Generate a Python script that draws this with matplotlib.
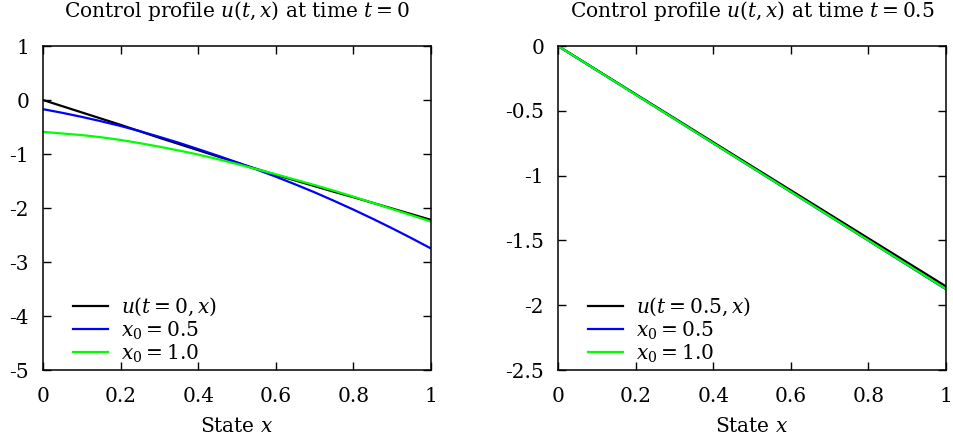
import matplotlib
matplotlib.use("Agg")
import matplotlib.pyplot as plt

plt.rcParams['font.family'] = ['DejaVu Serif']
plt.rcParams['mathtext.fontset'] = 'custom'
plt.rcParams['mathtext.rm'] = 'DejaVu Serif'
plt.rcParams['mathtext.it'] = 'DejaVu Serif:italic'
plt.rcParams['font.size'] = 14.5

# ---- data ----
x = [0.0, 0.05, 0.1, 0.15, 0.2, 0.25, 0.3, 0.35, 0.4, 0.45, 0.5,
     0.55, 0.6, 0.65, 0.7, 0.75, 0.8, 0.85, 0.9, 0.95, 1.0]

# t = 0
u0_exact = [0.0, -0.115, -0.23, -0.345, -0.46, -0.58, -0.70, -0.815, -0.93, -1.045, -1.16,
            -1.275, -1.385, -1.49, -1.595, -1.70, -1.80, -1.905, -2.01, -2.115, -2.22]
u0_x05 = [-0.17, -0.238, -0.313, -0.394, -0.481, -0.578, -0.683, -0.792, -0.91, -1.03, -1.155,
          -1.285, -1.42, -1.562, -1.71, -1.867, -2.03, -2.2, -2.377, -2.56, -2.75]
u0_x10 = [-0.59, -0.62, -0.65, -0.69, -0.74, -0.80, -0.865, -0.935, -1.01, -1.095, -1.185,
          -1.28, -1.375, -1.475, -1.575, -1.68, -1.79, -1.905, -2.02, -2.135, -2.25]

# t = 0.5
x_half = [0.0, 0.5, 1.0]
u5_exact = [0.0, -0.928, -1.855]
u5_x05 = [0.0, -0.938, -1.877]
u5_x10 = [0.0, -0.937, -1.875]

xticks = [0, 0.2, 0.4, 0.6, 0.8, 1]
xticklabels = ['0', '0.2', '0.4', '0.6', '0.8', '1']
yticks_left = [1, 0, -1, -2, -3, -4, -5]
yticklabels_left = ['1', '0', '-1', '-2', '-3', '-4', '-5']
yticks_right = [0, -0.5, -1, -1.5, -2, -2.5]
yticklabels_right = ['0', '-0.5', '-1', '-1.5', '-2', '-2.5']

W, H = 954, 445
fig = plt.figure(figsize=(W / 100, H / 100), dpi=100)
axL = fig.add_axes([43 / W, 75 / H, 388 / W, 324 / H])
axR = fig.add_axes([558 / W, 75 / H, 388 / W, 324 / H])

def style(ax, yt, ytl, ylim, title):
    ax.set_xlim(0, 1)
    ax.set_ylim(*ylim)
    ax.set_xticks(xticks)
    ax.set_xticklabels(xticklabels)
    ax.set_yticks(yt)
    ax.set_yticklabels(ytl)
    ax.tick_params(direction='in', length=6, width=1, top=True, right=True,
                   labelsize=14.5, pad=12)
    ax.tick_params(axis='y', pad=10)
    for s in ax.spines.values():
        s.set_linewidth(1.1)
    ax.set_title(title, fontsize=14.5, pad=21)
    ax.set_xlabel(r'State $x$', fontsize=14.5, labelpad=8)
    ax.legend(loc='lower left', bbox_to_anchor=(0.03, -0.04), frameon=False,
              handlelength=1.75, handletextpad=0.65, labelspacing=0.05,
              fontsize=14.5)

axL.plot(x, u0_exact, color='black', lw=1.6, label=r'$u(t=0,x)$')
axL.plot(x, u0_x05, color='#0000ff', lw=1.6, label=r'$x_0=0.5$')
axL.plot(x, u0_x10, color='#00ff00', lw=1.6, label=r'$x_0=1.0$')
style(axL, yticks_left, yticklabels_left, (-5, 1),
      r'Control profile $u(t,x)$ at time $t=0$')

axR.plot(x_half, u5_exact, color='black', lw=1.6, label=r'$u(t=0.5,x)$')
axR.plot(x_half, u5_x05, color='#0000ff', lw=1.6, label=r'$x_0=0.5$')
axR.plot(x_half, u5_x10, color='#00ff00', lw=1.6, label=r'$x_0=1.0$')
style(axR, yticks_right, yticklabels_right, (-2.5, 0),
      r'Control profile $u(t,x)$ at time $t=0.5$')

fig.savefig('out.png', dpi=100)
